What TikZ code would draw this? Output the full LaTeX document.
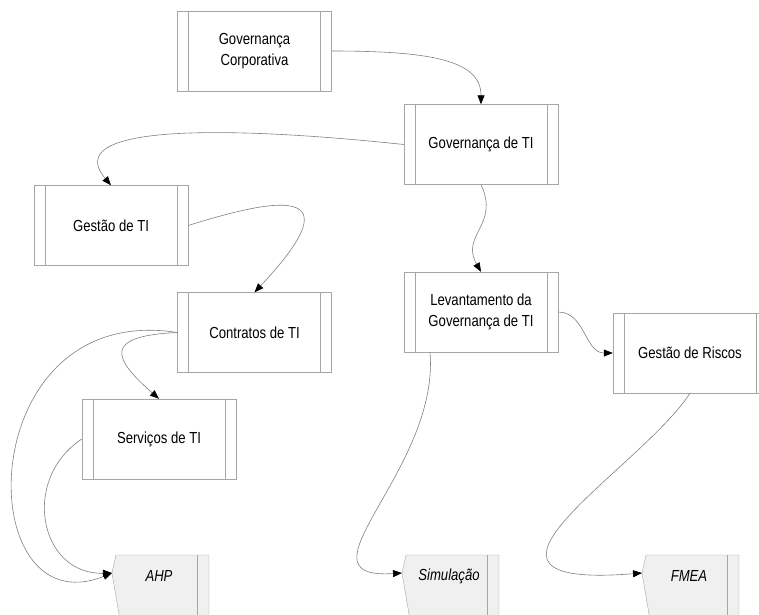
\documentclass[tikz,border=0pt]{standalone}
\usepackage{fontspec}
\setmainfont{Liberation Sans}[FakeStretch=0.82]
\usetikzlibrary{arrows.meta, positioning}

\begin{document}
\begin{tikzpicture}[x=1pt, y=-1pt,
    proc/.style={draw=gray!70, rectangle, fill=white, minimum width=154pt, minimum height=80pt, inner sep=0pt, align=center, font=\fontsize{16}{21}\selectfont,
      path picture={\draw[gray!70] ([xshift=11pt]path picture bounding box.north west) -- ([xshift=11pt]path picture bounding box.south west);
        \draw[gray!70] ([xshift=-11pt]path picture bounding box.north east) -- ([xshift=-11pt]path picture bounding box.south east);}},
    meth/.style={align=center, font=\fontsize{16}{21}\selectfont\itshape},
    conn/.style={draw=gray, line width=0.6pt, -{Triangle[length=9pt, width=7pt, color=black]}}]

    \useasboundingbox (0,0) rectangle (759,614);
    \clip (0,0) rectangle (759,614);

    % processos
    \node[proc] (gc) at (254.5,51) {Governança\\Corporativa};
    \node[proc] (gti) at (481,144.5) {Governança de TI};
    \node[proc] (gesti) at (111,225.5) {Gestão de TI};
    \node[proc] (cont) at (254.5,332.5) {Contratos de TI};
    \node[proc] (serv) at (159,439) {Serviços de TI};
    \node[proc] (lev) at (481,312) {Levantamento da\\Governança de TI};
    \node[proc] (risc) at (690,353) {Gestão de Riscos};

    % metodos
    \foreach \x/\n/\t in {112/ahp/AHP, 402/sim/Simulação, 642/fmea/FMEA} {
        \draw[draw=gray!70, fill=gray!12] (\x+4,555) -- (\x,573) -- (\x+8,620) -- (\x+97,620) -- (\x+97,555) -- cycle;
        \draw[gray!70] (\x+85,555) -- (\x+85,620);
        \coordinate (\n) at (\x,573);
        \node[meth] (\n txt) at (\x+47,576) {\t};
    }

    \draw[conn] (gc.east) .. controls (430,51) and (481,60) .. (gti.north);
    \draw[conn] (gti.west) .. controls (220,125) and (60,125) .. (gesti.north);
    \draw[conn] (gesti.east) .. controls (270,200) and (360,180) .. (cont.north);
    \draw[conn] (gti.south) .. controls (500,225) and (460,235) .. (lev.north);
    \draw[conn] (lev.east) .. controls (585,312) and (585,353) .. (risc.west);
    \draw[conn] (cont.west) .. controls (100,336) and (115,360) .. (serv.north);
    \draw[conn] (cont.west) .. controls (-30,300) and (-30,630) .. (ahp);
    \draw[conn] (serv.west) .. controls (20,480) and (40,575) .. (ahp);
    \draw[conn] ([xshift=-51pt]lev.south) .. controls (440,470) and (290,580) .. (sim);
    \draw[conn] (risc.south) .. controls (640,470) and (430,590) .. (fmea);
\end{tikzpicture}
\end{document}
